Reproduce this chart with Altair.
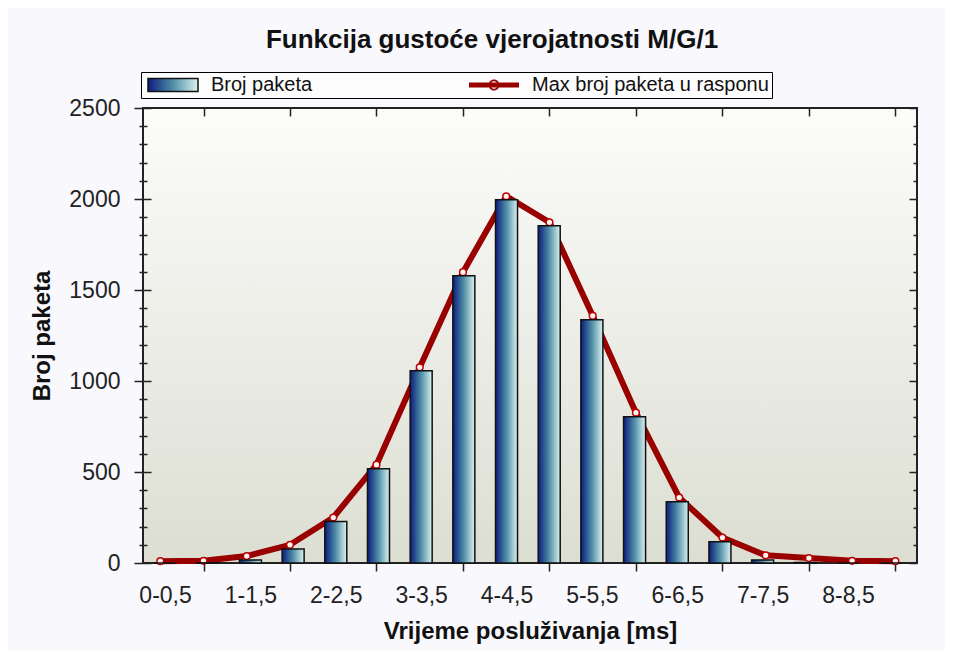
import json
import altair as alt
import pandas as pd

# ---------------- data ----------------
CATEGORIES = ['0-0,5', '0,5-1', '1-1,5', '1,5-2', '2-2,5', '2,5-3', '3-3,5', '3,5-4',
              '4-4,5', '4,5-5', '5-5,5', '5,5-6', '6-6,5', '6,5-7', '7-7,5', '7,5-8',
              '8-8,5', '8,5-9']
BROJ_PAKETA = [0, 1, 16, 77, 228, 518, 1057, 1578, 1996, 1853, 1336, 803, 337, 117, 17, 3, 0, 0]
MAX_BROJ = [10, 12, 38, 100, 250, 540, 1075, 1598, 2015, 1872, 1358, 826, 360, 140, 42, 27, 12, 10]
SERIES = ['Broj paketa', 'Max broj paketa u rasponu']
Y_TICKS = list(range(0, 2501, 100))
LABEL_TICKS = list(range(0, len(CATEGORIES), 2))
MARK_TICKS = list(range(1, len(CATEGORIES), 2))
TITLE = 'Funkcija gustoće vjerojatnosti M/G/1'
X_TITLE = 'Vrijeme posluživanja [ms]'
Y_TITLE = 'Broj paketa'

df = pd.DataFrame({
    'idx': list(range(len(CATEGORIES))),
    'kategorija': CATEGORIES,
    'broj': BROJ_PAKETA,
    'max': MAX_BROJ,
})

# ---------------- styling ----------------
FONT = 'Liberation Sans'
DARK_RED = '#990000'
MAJOR = 'datum.value % 500 === 0'
GRAD_STOPS = [('#0c1c7e', 0.0), ('#4f8fa6', 0.5), ('#dcf2f2', 1.0)]

bar_grad = alt.LinearGradient(
    gradient='linear', x1=0, x2=1, y1=0, y2=0,
    stops=[alt.GradientStop(color=c, offset=o) for c, o in GRAD_STOPS])
grad_expr = ("{gradient: 'linear', x1: 0, y1: 0, x2: 1, y2: 0, stops: ["
             + ', '.join(f"{{offset: {o}, color: '{c}'}}" for c, o in GRAD_STOPS) + "]}")

PATH_BAR = 'M-0.6,-0.65H4.4V0.65H-0.6Z'
PATH_LINE = ('M-0.6,-0.25H4.4V0.25H-0.6Z '
             'M2.45,0A0.55,0.55 0 1,1 1.35,0A0.55,0.55 0 1,1 2.45,0Z '
             'M2.28,0A0.38,0.38 0 1,0 1.52,0A0.38,0.38 0 1,0 2.28,0Z')
IS_BAR = "datum.value === 'Broj paketa'"
FILL_EXPR = f"{IS_BAR} ? {grad_expr} : '{DARK_RED}'"

xs = alt.Scale(domain=[-0.4, 17.5], nice=False, zero=False)
ys = alt.Scale(domain=[0, 2500], nice=False, zero=False)
stroke_scale = alt.Scale(domain=SERIES, range=['#111111', DARK_RED])

legend = alt.Legend(
    orient='none', legendX=-2, legendY=-36, direction='horizontal', columns=2,
    title=None, gridAlign='all', columnPadding=17, labelOffset=47, labelLimit=400,
    labelFont=FONT, labelFontSize=20, labelColor='#111111', padding=3,
    strokeColor='#000000', fillColor='#fdfdfd', symbolSize=400,
    symbolType=alt.ExprRef(f"{IS_BAR} ? '{PATH_BAR}' : '{PATH_LINE}'"),
    symbolFillColor=alt.ExprRef(FILL_EXPR),
    symbolStrokeWidth=alt.ExprRef(f"{IS_BAR} ? 1.5 : 0"),
    symbolOpacity=1,
)

label_expr = json.dumps(CATEGORIES) + '[datum.value]'

# line (behind bars)
line = alt.Chart(df).mark_line(strokeWidth=6, strokeJoin='round', color=DARK_RED).encode(
    x=alt.X('idx:Q', scale=xs, axis=alt.Axis(
        orient='bottom', values=MARK_TICKS, labels=False, tickSize=8,
        domain=False, grid=False, title=None)),
    y=alt.Y('max:Q', scale=ys, axis=alt.Axis(
        orient='left', values=Y_TICKS, labels=False,
        tickSize=alt.ExprRef(f'{MAJOR} ? -8 : -4'),
        domain=False, grid=False, title=None)),
)

pts = alt.Chart(df).mark_point(shape='circle', filled=True, fill='#fff4f4',
                               stroke='#c00000', strokeWidth=1.5, size=45,
                               opacity=1).encode(
    x=alt.X('idx:Q', scale=xs, axis=alt.Axis(
        orient='bottom', values=MARK_TICKS, labels=False,
        tickSize=alt.ExprRef('-6'), domain=False, grid=False, title=None)),
    y=alt.Y('max:Q', scale=ys, axis=alt.Axis(
        orient='right', values=Y_TICKS, labels=False,
        tickSize=alt.ExprRef(f'{MAJOR} ? -8 : -4'),
        domain=False, grid=False, title=None)),
)

bars = alt.Chart(df).mark_bar(size=22, fill=bar_grad, stroke='#111111',
                              strokeWidth=1.5).encode(
    x=alt.X('idx:Q', scale=xs, axis=alt.Axis(
        orient='bottom', values=LABEL_TICKS, labelExpr=label_expr, ticks=False,
        tickSize=0, domain=False, grid=False, labelPadding=21, labelFlush=False,
        title=X_TITLE, titlePadding=12)),
    y=alt.Y('broj:Q', scale=ys, axis=alt.Axis(
        orient='left', values=Y_TICKS, format='d',
        labelExpr=f"{MAJOR} ? datum.label : ''",
        tickSize=alt.ExprRef(f'{MAJOR} ? 9 : 4'), labelPadding=14,
        domain=False, grid=False, title=Y_TITLE, titlePadding=14)),
    tooltip=['kategorija:N', 'broj:Q', 'max:Q'],
)

# carries the top mirrored ticks and the legend (no marks drawn)
guide = alt.Chart(df).transform_calculate(
    serija=f"'{SERIES[1]}'"
).transform_filter('false').mark_point(
    filled=True, shape='circle', fill=alt.ExprRef(FILL_EXPR)).encode(
    x=alt.X('idx:Q', scale=xs, axis=alt.Axis(
        orient='top', values=MARK_TICKS, labels=False,
        tickSize=alt.ExprRef('-8'), domain=False, grid=False, title=None)),
    y=alt.Y('max:Q', scale=ys, axis=None),
    stroke=alt.Stroke('serija:N', scale=stroke_scale, legend=legend),
)

chart = alt.layer(line, pts, bars, guide).resolve_scale(
    x='independent', y='independent'
).properties(
    width=774, height=455,
    autosize=alt.AutoSizeParams(type='none'),
    padding={'left': 135, 'top': 100, 'right': 28, 'bottom': 87},
    title=alt.TitleParams(text=TITLE, font=FONT, fontSize=26, fontWeight='bold',
                          color='#111111', anchor='middle', dx=-38, offset=19),
).configure(
    background='#f8f8fd', font=FONT,
).configure_view(
    stroke='#222222', strokeWidth=2,
    fill=alt.ExprRef("{gradient: 'linear', x1: 0, y1: 0, x2: 0, y2: 1, "
                     "stops: [{offset: 0, color: '#fcfcfb'}, {offset: 1, color: '#dcded2'}]}"),
).configure_axis(
    labelFont=FONT, labelFontSize=23, labelColor='#222222',
    titleFont=FONT, titleFontSize=24, titleFontWeight='bold', titleColor='#111111',
    tickColor='#222222', tickWidth=1.5,
)

chart.save('out.html', embed_options={'renderer': 'svg', 'actions': False})
